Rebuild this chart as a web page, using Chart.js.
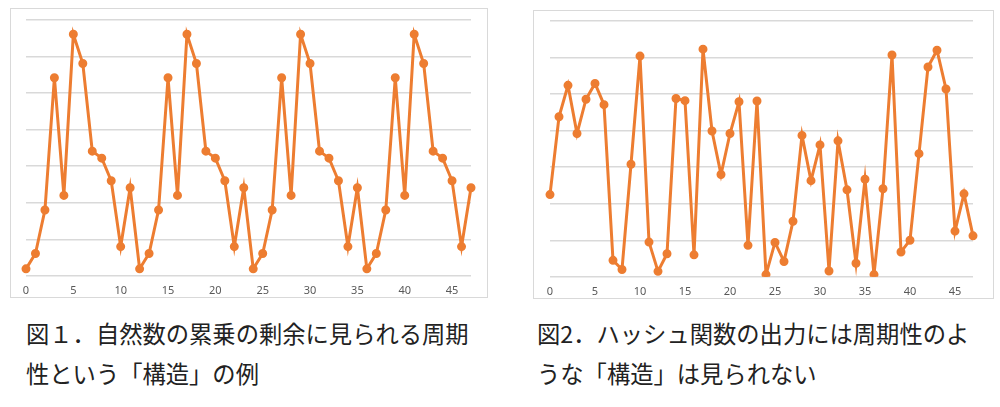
<!DOCTYPE html>
<html><head><meta charset="utf-8">
<script src="https://cdn.jsdelivr.net/npm/chart.js@4"></script>
<style>
body{margin:0;background:#fff;width:1000px;height:407px;position:relative;overflow:hidden;font-family:"Noto Sans CJK JP",sans-serif;}
.box{position:absolute;border:1px solid #d9d9d9;box-sizing:border-box;}
.cap{position:absolute;font-size:23.3px;line-height:40px;color:#222;white-space:nowrap;}
</style></head><body>
<div class="box" style="left:10px;top:8px;width:478px;height:290px;"><canvas id="c1"></canvas></div>
<div class="box" style="left:533px;top:10px;width:461px;height:289px;"><canvas id="c2"></canvas></div>
<div class="cap" style="left:26px;top:313px;">図１．自然数の累乗の剰余に見られる周期<br>性という「構造」の例</div>
<div class="cap" style="left:537px;top:313px;">図2．ハッシュ関数の出力には周期性のよ<br>うな「構造」は見られない</div>
<script>
const categories = Array.from({length:48},(_,i)=>String(i));
const periodValues = [0.19,0.61,1.8,5.42,2.2,6.61,5.81,3.41,3.22,2.6,0.8,2.41];
const powerModValues = [].concat(periodValues,periodValues,periodValues,periodValues);
const hashValues = [2.25,4.38,5.24,3.92,4.86,5.29,4.71,0.45,0.2,3.08,6.04,0.95,0.15,0.63,4.88,4.82,0.6,6.23,3.99,2.8,3.92,4.79,0.86,4.81,0.06,0.94,0.42,1.52,3.87,2.63,3.61,0.16,3.72,2.38,0.37,2.67,0.06,2.41,6.07,0.68,1.0,3.37,5.74,6.2,5.14,1.25,2.27,1.12];
function make(id,data,w,h,pad){
  const cv=document.getElementById(id);
  cv.style.width=w+'px';cv.style.height=h+'px';
  new Chart(cv,{type:'line',data:{labels:categories,datasets:[{data:data,borderColor:'#ED7D31',backgroundColor:'#ED7D31',borderWidth:3,pointRadius:3,pointHoverRadius:3,tension:0}]},
  options:{responsive:false,animation:false,layout:{padding:pad},
    plugins:{legend:{display:false},tooltip:{enabled:false}},
    scales:{x:{offset:false,grid:{display:false},border:{display:false},
      ticks:{autoSkip:false,maxRotation:0,color:'#595959',font:{size:11,family:'Noto Sans'},padding:0,callback:(v,i)=>i%5===0?String(i):''}},
      y:{min:0,max:7,grid:{color:'#d9d9d9',lineWidth:1.5,drawTicks:false},border:{display:false},ticks:{display:false,stepSize:1}}}}});
}
make('c1',powerModValues,476,288,{left:15,right:16,top:11,bottom:0});
make('c2',hashValues,459,287,{left:16,right:20,top:10,bottom:0});
</script></body></html>
